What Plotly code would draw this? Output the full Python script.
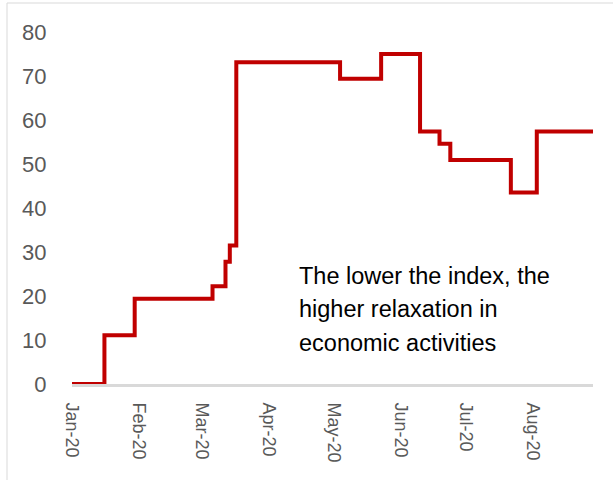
import plotly.graph_objects as go

# Step changes of the index (date of change, new value)
change_dates = ["2020-01-01", "2020-01-16", "2020-01-30", "2020-03-06", "2020-03-12",
                "2020-03-14", "2020-03-17", "2020-05-04", "2020-05-23", "2020-06-10",
                "2020-06-19", "2020-06-24", "2020-07-22", "2020-08-03", "2020-08-29"]
index_values = [0, 11.1, 19.4, 22.2, 27.8, 31.5, 73.1, 69.4, 75.0, 57.4,
                54.6, 50.9, 43.5, 57.4, 57.4]

month_ticks = ["2020-01-01", "2020-02-01", "2020-03-01", "2020-04-01",
               "2020-05-01", "2020-06-01", "2020-07-01", "2020-08-01"]
month_labels = ["Jan-20", "Feb-20", "Mar-20", "Apr-20", "May-20", "Jun-20", "Jul-20", "Aug-20"]
y_ticks = [0, 10, 20, 30, 40, 50, 60, 70, 80]

note_lines = ["The lower the index, the", "higher relaxation in", "economic activities"]

FONT = "Liberation Sans, Arial, sans-serif"

W, H = 613, 480
L, R, T, B = 72, 20, 32, 96
pw, ph = W - L - R, H - T - B

def px(x):
    return (x - L) / pw

def py(y):
    return (H - B - y) / ph

fig = go.Figure()
fig.add_trace(go.Scatter(
    x=change_dates, y=index_values, mode="lines",
    line=dict(color="#C00000", width=4, shape="hv"),
    hoverinfo="skip", showlegend=False,
))

fig.update_layout(
    width=W, height=H,
    margin=dict(l=L, r=R, t=T, b=B),
    paper_bgcolor="white", plot_bgcolor="white",
    showlegend=False,
    xaxis=dict(
        type="date", range=[change_dates[0], change_dates[-1]],
        tickvals=month_ticks, ticktext=month_labels, tickangle=90,
        showgrid=False, zeroline=False,
        showline=True, linecolor="#d9d9d9", linewidth=3,
        ticks="outside", ticklen=12, tickcolor="rgba(0,0,0,0)",
        tickfont=dict(family=FONT, size=18, color="#595959"),
    ),
    yaxis=dict(
        range=[0, 80], tickvals=y_ticks,
        showgrid=False, zeroline=False, showline=False,
        ticks="outside", ticklen=20, tickcolor="rgba(0,0,0,0)",
        tickfont=dict(family=FONT, size=22, color="#595959"),
    ),
)

# chart frame (left and top edges visible in the crop)
fig.add_shape(type="line", xref="paper", yref="paper",
              x0=px(7), x1=px(7), y0=py(3), y1=py(500),
              line=dict(color="#d9d9d9", width=1))
fig.add_shape(type="line", xref="paper", yref="paper",
              x0=px(7), x1=px(640), y0=py(3), y1=py(3),
              line=dict(color="#d9d9d9", width=1))

for i, txt in enumerate(note_lines):
    fig.add_annotation(
        text=txt, xref="paper", yref="paper",
        x=px(297), y=py(275.5 + 33.5 * i), xanchor="left", yanchor="middle",
        showarrow=False, font=dict(family=FONT, size=23.5, color="#000000"),
    )

fig.write_html("out.html")
